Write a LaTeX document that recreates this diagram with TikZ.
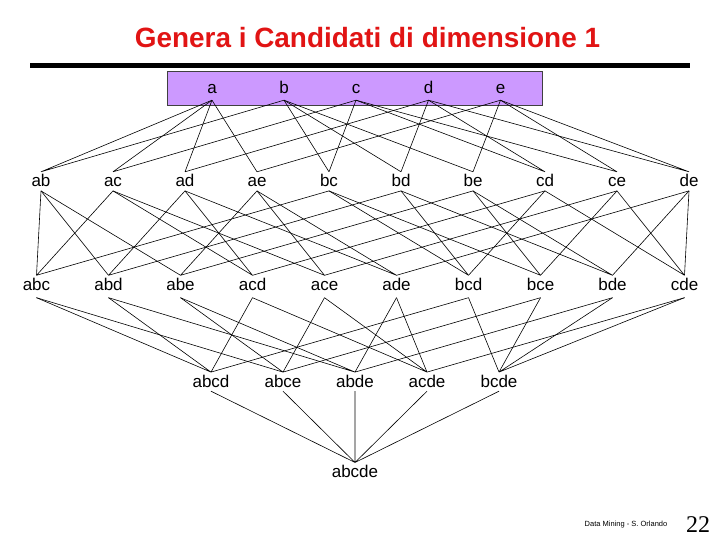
\documentclass[tikz,border=0pt]{standalone}
\usepackage{fontspec}
\setmainfont{Liberation Sans}
\newfontfamily\pagenumfont{Liberation Serif}
\usetikzlibrary{positioning}
\definecolor{ttlRed}{RGB}{225,20,20}
\definecolor{boxLilac}{RGB}{204,153,255}
\tikzset{
  item/.style={font=\fontsize{17}{20}\selectfont, anchor=base,
    inner xsep=1pt, inner ysep=1pt, text height=14pt, text depth=2.7pt},
  single/.style={item, text depth=5pt},
  triple/.style={item, text depth=6pt},
  link/.style={line width=0.6pt, draw=black}
}

\begin{document}
\begin{tikzpicture}[x=1pt,y=-1pt]
\useasboundingbox (0,0) rectangle (720,540);

% Titolo
\node[font=\fontsize{27.9}{32}\selectfont\bfseries, text=ttlRed, anchor=base]
  (title) at (367.5,48) {Genera i Candidati di dimensione 1};
\draw[line width=5pt] (30,66) -- (690,66);

% Candidati di dimensione 1
\draw[fill=boxLilac, draw=black!75, line width=0.6pt] (167,71) rectangle (542,105);
\node[single] (a) at (212,94) {a};
\node[single] (b) at (284,94) {b};
\node[single] (c) at (356,94) {c};
\node[single] (d) at (428.5,94) {d};
\node[single] (e) at (500.5,94) {e};

% Dimensione 2
\node[item] (ab) at (41,187) {ab};
\node[item] (ac) at (113,187) {ac};
\node[item] (ad) at (185,187) {ad};
\node[item] (ae) at (257,187) {ae};
\node[item] (bc) at (329,187) {bc};
\node[item] (bd) at (401,187) {bd};
\node[item] (be) at (473,187) {be};
\node[item] (cd) at (545,187) {cd};
\node[item] (ce) at (617,187) {ce};
\node[item] (de) at (689,187) {de};

% Dimensione 3
\node[triple] (abc) at (36.5,290.5) {abc};
\node[triple] (abd) at (108.5,290.5) {abd};
\node[triple] (abe) at (180.5,290.5) {abe};
\node[triple] (acd) at (252.5,290.5) {acd};
\node[triple] (ace) at (324.5,290.5) {ace};
\node[triple] (ade) at (396.5,290.5) {ade};
\node[triple] (bcd) at (468.5,290.5) {bcd};
\node[triple] (bce) at (540.5,290.5) {bce};
\node[triple] (bde) at (612.5,290.5) {bde};
\node[triple] (cde) at (684.5,290.5) {cde};

% Dimensione 4 e 5
\node[item] (abcd) at (211,387.3) {abcd};
\node[item] (abce) at (283,387.3) {abce};
\node[item] (abde) at (355,387.3) {abde};
\node[item] (acde) at (427,387.3) {acde};
\node[item] (bcde) at (499,387.3) {bcde};
\node[item] (abcde) at (355,477.7) {abcde};

% Piede
\node[font=\fontsize{7.5}{9}\selectfont, anchor=base] (credit) at (626,526) {Data Mining - S. Orlando};
\node[font=\pagenumfont\fontsize{24}{26}\selectfont, anchor=base] (pagenum) at (698,532) {22};

% Archi 1 -> 2
\draw[link] (a.south) -- (ab.north) (b.south) -- (ab.north);
\draw[link] (a.south) -- (ac.north) (c.south) -- (ac.north);
\draw[link] (a.south) -- (ad.north) (d.south) -- (ad.north);
\draw[link] (a.south) -- (ae.north) (e.south) -- (ae.north);
\draw[link] (b.south) -- (bc.north) (c.south) -- (bc.north);
\draw[link] (b.south) -- (bd.north) (d.south) -- (bd.north);
\draw[link] (b.south) -- (be.north) (e.south) -- (be.north);
\draw[link] (c.south) -- (cd.north) (d.south) -- (cd.north);
\draw[link] (c.south) -- (ce.north) (e.south) -- (ce.north);
\draw[link] (d.south) -- (de.north) (e.south) -- (de.north);

% Archi 2 -> 3
\draw[link] (ab.south) -- (abc.north) (ac.south) -- (abc.north) (bc.south) -- (abc.north);
\draw[link] (ab.south) -- (abd.north) (ad.south) -- (abd.north) (bd.south) -- (abd.north);
\draw[link] (ab.south) -- (abe.north) (ae.south) -- (abe.north) (be.south) -- (abe.north);
\draw[link] (ac.south) -- (acd.north) (ad.south) -- (acd.north) (cd.south) -- (acd.north);
\draw[link] (ac.south) -- (ace.north) (ae.south) -- (ace.north) (ce.south) -- (ace.north);
\draw[link] (ad.south) -- (ade.north) (ae.south) -- (ade.north) (de.south) -- (ade.north);
\draw[link] (bc.south) -- (bcd.north) (bd.south) -- (bcd.north) (cd.south) -- (bcd.north);
\draw[link] (bc.south) -- (bce.north) (be.south) -- (bce.north) (ce.south) -- (bce.north);
\draw[link] (bd.south) -- (bde.north) (be.south) -- (bde.north) (de.south) -- (bde.north);
\draw[link] (cd.south) -- (cde.north) (ce.south) -- (cde.north) (de.south) -- (cde.north);

% Archi 3 -> 4
\draw[link] (abc.south) -- (abcd.north) (abd.south) -- (abcd.north)
  (acd.south) -- (abcd.north) (bcd.south) -- (abcd.north);
\draw[link] (abc.south) -- (abce.north) (abe.south) -- (abce.north)
  (ace.south) -- (abce.north) (bce.south) -- (abce.north);
\draw[link] (abd.south) -- (abde.north) (abe.south) -- (abde.north)
  (ade.south) -- (abde.north) (bde.south) -- (abde.north);
\draw[link] (acd.south) -- (acde.north) (ace.south) -- (acde.north)
  (ade.south) -- (acde.north) (cde.south) -- (acde.north);
\draw[link] (bcd.south) -- (bcde.north) (bce.south) -- (bcde.north)
  (bde.south) -- (bcde.north) (cde.south) -- (bcde.north);

% Archi 4 -> 5
\draw[link] (abcd.south) -- (abcde.north) (abce.south) -- (abcde.north)
  (abde.south) -- (abcde.north) (acde.south) -- (abcde.north)
  (bcde.south) -- (abcde.north);
\end{tikzpicture}
\end{document}
